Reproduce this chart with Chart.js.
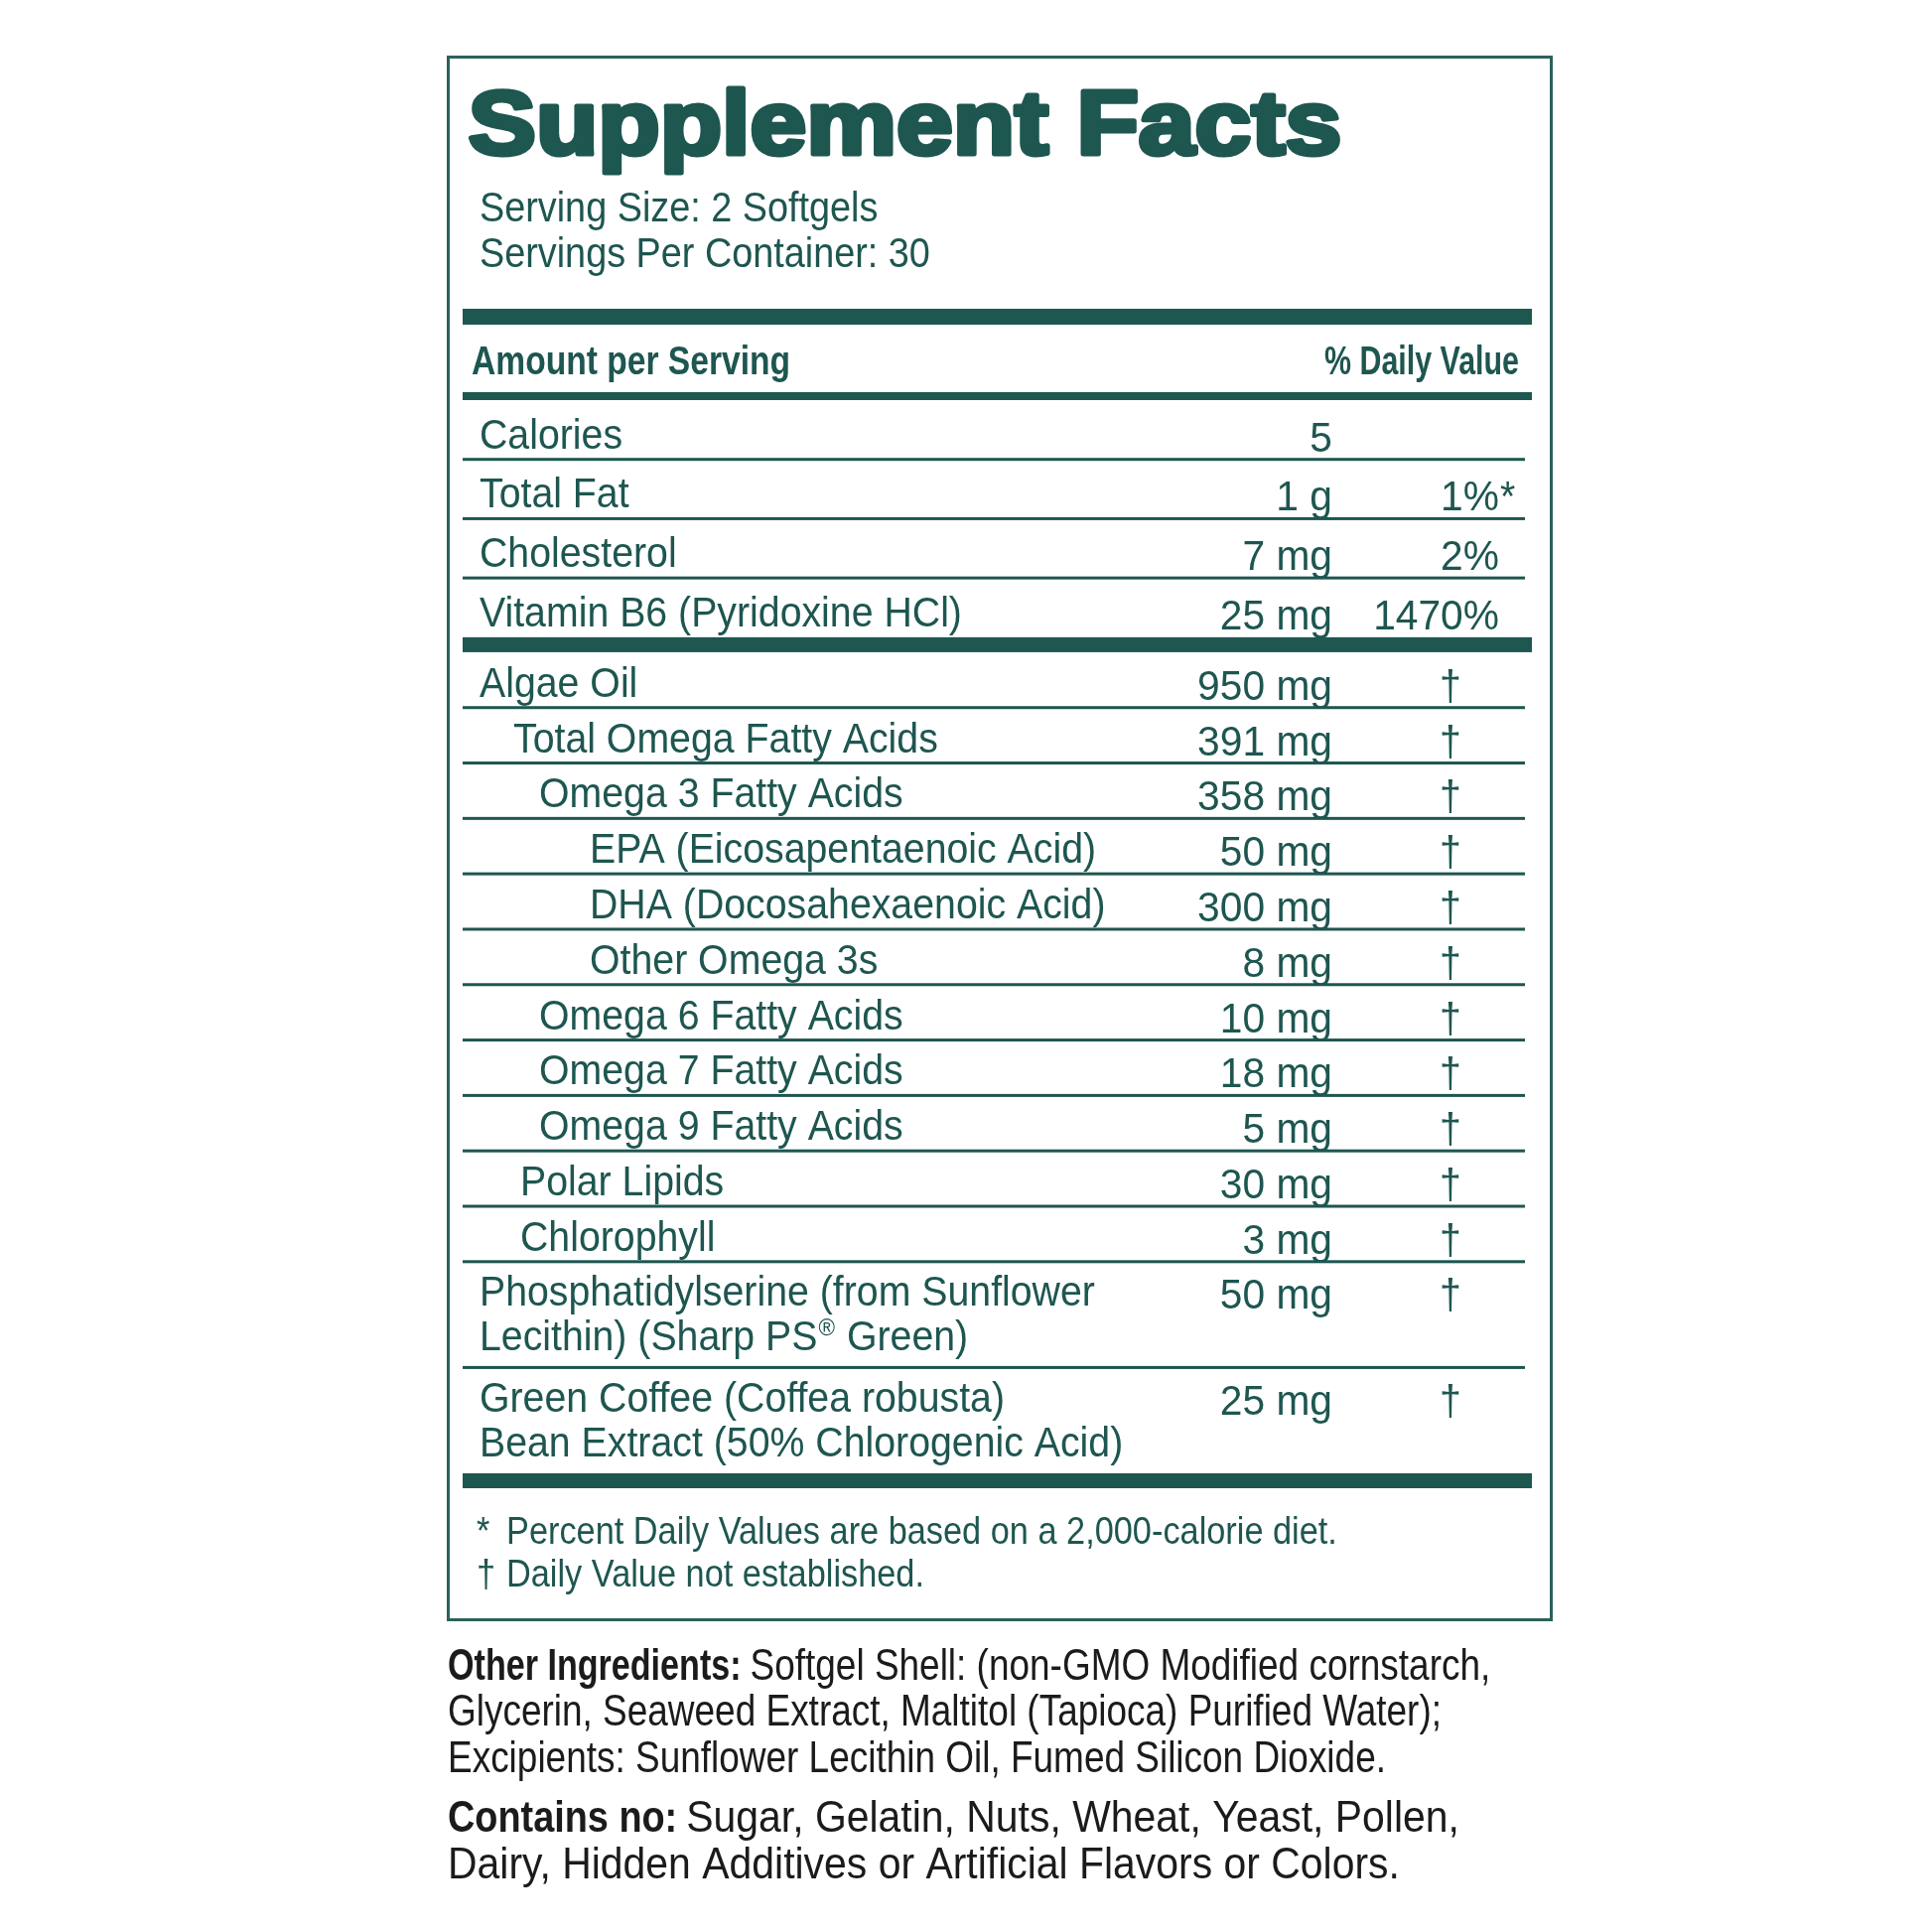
<!DOCTYPE html>
<html><head><meta charset="utf-8">
<style>html,body{margin:0;padding:0;background:#fff}canvas{display:block}</style>
<script src="https://cdn.jsdelivr.net/npm/chart.js@4.4.1/dist/chart.umd.min.js"></script>
</head><body>
<canvas id="c" width="1946" height="1946"></canvas>
<script>
// ---------- DATA ----------
const titleText = "Supplement Facts";
const servingLines = ["Serving Size: 2 Softgels", "Servings Per Container: 30"];
const headerLeft = "Amount per Serving";
const headerRight = "% Daily Value";

const rowLabels = [
  "Calories",
  "Total Fat",
  "Cholesterol",
  "Vitamin B6 (Pyridoxine HCl)",
  "Algae Oil",
  "Total Omega Fatty Acids",
  "Omega 3 Fatty Acids",
  "EPA (Eicosapentaenoic Acid)",
  "DHA (Docosahexaenoic Acid)",
  "Other Omega 3s",
  "Omega 6 Fatty Acids",
  "Omega 7 Fatty Acids",
  "Omega 9 Fatty Acids",
  "Polar Lipids",
  "Chlorophyll",
  ["Phosphatidylserine (from Sunflower", "Lecithin) (Sharp PS\u00AE Green)"],
  ["Green Coffee (Coffea robusta)", "Bean Extract (50% Chlorogenic Acid)"]
];
const amountValues = [5, 1, 7, 25, 950, 391, 358, 50, 300, 8, 10, 18, 5, 30, 3, 50, 25];
const amountUnits  = ["", "g", "mg", "mg", "mg", "mg", "mg", "mg", "mg", "mg", "mg", "mg", "mg", "mg", "mg", "mg", "mg"];
const dailyValues  = ["", "1%*", "2%", "1470%", "\u2020", "\u2020", "\u2020", "\u2020", "\u2020", "\u2020", "\u2020", "\u2020", "\u2020", "\u2020", "\u2020", "\u2020", "\u2020"];
const indentLevels = [0, 0, 0, 0, 0, 1, 3, 4, 4, 4, 3, 3, 3, 2, 2, 0, 0];
const rowSections  = [0, 0, 0, 0, 1, 1, 1, 1, 1, 1, 1, 1, 1, 1, 1, 1, 1];

const footnotes = [
  ["*", "Percent Daily Values are based on a 2,000-calorie diet."],
  ["\u2020", "Daily Value not established."]
];
const otherIngredientsHead = "Other Ingredients:";
const otherIngredientsLines = [
  "Softgel Shell: (non-GMO Modified cornstarch,",
  "Glycerin, Seaweed Extract, Maltitol (Tapioca) Purified Water);",
  "Excipients: Sunflower Lecithin Oil, Fumed Silicon Dioxide."
];
const containsHead = "Contains no:";
const containsLines = [
  "Sugar, Gelatin, Nuts, Wheat, Yeast, Pollen,",
  "Dairy, Hidden Additives or Artificial Flavors or Colors."
];

// ---------- STYLE ----------
const TEAL = "#1e5650";
const BORDER = "#2a625b";
const INK = "#1b1b1b";
const FONT = '"Liberation Sans", Arial, sans-serif';
const SX = 0.935, SXB = 0.84, SXN = 0.97;
const INDENT = [0, 34, 41, 60, 111];
const SECTION_GAP = 0.27;

// row units along the y scale
const rowStart = [], rowEnd = [];
let acc = 0;
rowLabels.forEach((lab, i) => {
  if (i > 0 && rowSections[i] !== rowSections[i - 1]) acc += SECTION_GAP;
  const lines = Array.isArray(lab) ? lab.length : 1;
  const u = rowSections[i] === 0 ? 1.07 : (lines === 2 ? 1.91 : 1);
  rowStart.push(acc); acc += u; rowEnd.push(acc);
});
const totalUnits = acc;

function txt(ctx, s, x, y, size, o = {}) {
  ctx.save();
  ctx.font = (o.bold ? 'bold ' : '') + size + 'px ' + FONT;
  ctx.fillStyle = o.color || TEAL;
  ctx.textBaseline = 'alphabetic';
  ctx.textAlign = o.align || 'left';
  const sx = o.sx || SX;
  ctx.translate(x, y);
  ctx.scale(sx, 1);
  ctx.fillText(s, 0, 0);
  const w = ctx.measureText(s).width * sx;
  ctx.restore();
  return w;
}

function labelLine(ctx, s, x, y) {
  if (s.includes("\u00AE")) {
    const parts = s.split("\u00AE");
    let w = txt(ctx, parts[0], x, y, 42);
    w += txt(ctx, "\u00AE", x + w + 1, y - 15, 24) + 2;
    txt(ctx, parts[1], x + w, y, 42);
  } else {
    txt(ctx, s, x, y, 42);
  }
}

const labelPlugin = {
  id: 'label',
  beforeDraw(chart) {
    const ctx = chart.ctx;
    ctx.save(); ctx.fillStyle = '#fff'; ctx.fillRect(0, 0, chart.width, chart.height); ctx.restore();
  },
  afterDraw(chart) {
    const ctx = chart.ctx;
    const ys = chart.scales.y;
    const L = chart.chartArea.left, RT = chart.chartArea.right, R = RT - 7;

    // outer border
    ctx.save();
    ctx.strokeStyle = BORDER; ctx.lineWidth = 3;
    ctx.strokeRect(451.5, 57.5, 1111, 1574);
    ctx.restore();

    // title
    ctx.save();
    ctx.font = 'bold 91px ' + FONT;
    const TLW = 5;
    const tw = ctx.measureText(titleText).width + TLW;
    const tsx = 885 / tw;
    ctx.translate(469 + TLW / 2 * tsx, 155);
    ctx.scale(tsx, 1);
    ctx.fillStyle = TEAL; ctx.strokeStyle = TEAL;
    ctx.lineWidth = TLW; ctx.lineJoin = 'round';
    ctx.strokeText(titleText, 0, 0);
    ctx.fillText(titleText, 0, 0);
    ctx.restore();

    // serving info
    txt(ctx, servingLines[0], 483, 223, 42, { sx: 0.90 });
    txt(ctx, servingLines[1], 483, 269, 42, { sx: 0.90 });

    ctx.fillStyle = TEAL;
    ctx.fillRect(L, 311, RT - L, 16);
    txt(ctx, headerLeft, 475, 377, 40, { bold: true, sx: SXB });
    txt(ctx, headerRight, 1530, 377, 40, { bold: true, sx: 0.76, align: 'right' });
    ctx.fillStyle = TEAL;
    ctx.fillRect(L, 395, RT - L, 8);

    // rows
    rowLabels.forEach((lab, i) => {
      const top = ys.getPixelForValue(rowStart[i]);
      const bot = ys.getPixelForValue(rowEnd[i]);
      const lines = Array.isArray(lab) ? lab : [lab];
      const x = 483 + INDENT[indentLevels[i]];
      const b0 = lines.length === 1 ? bot - 11 : top + 44.5;
      lines.forEach((ln, k) => labelLine(ctx, ln, x, b0 + k * 45));
      const amt = amountValues[i] + (amountUnits[i] ? ' ' + amountUnits[i] : '');
      txt(ctx, amt, 1342, b0 + 3, 42, { align: 'right', sx: SXN });
      const dv = dailyValues[i];
      if (dv === "\u2020") {
        txt(ctx, dv, 1461, b0 + 3, 42, { align: 'center' });
      } else if (dv) {
        const star = dv.endsWith('*');
        const core = star ? dv.slice(0, -1) : dv;
        txt(ctx, core, 1510, b0 + 3, 42, { align: 'right', sx: SXN });
        if (star) txt(ctx, '*', 1511, b0 + 3, 42);
      }
      ctx.fillStyle = TEAL;
      const next = i + 1;
      if (next < rowLabels.length && rowSections[next] === rowSections[i]) {
        ctx.fillRect(L, bot - 1.5, R - L, 3);
      } else if (next < rowLabels.length) {
        const nTop = ys.getPixelForValue(rowStart[next]);
        ctx.fillRect(L, bot, RT - L, nTop - bot);
      } else {
        ctx.fillRect(L, bot, RT - L, 15);
      }
    });

    // footnotes
    txt(ctx, footnotes[0][0], 480, 1555, 39, { sx: 0.88 });
    txt(ctx, footnotes[0][1], 510, 1555, 39, { sx: 0.88 });
    txt(ctx, footnotes[1][0], 480, 1598, 39, { sx: 0.88 });
    txt(ctx, footnotes[1][1], 510, 1598, 39, { sx: 0.88 });

    // other ingredients
    const SXI = 0.84, SXIB = 0.775;
    let w = txt(ctx, otherIngredientsHead, 451, 1692, 44, { bold: true, sx: SXIB, color: INK });
    txt(ctx, otherIngredientsLines[0], 451 + w + 9, 1692, 44, { color: INK, sx: SXI });
    txt(ctx, otherIngredientsLines[1], 451, 1738, 44, { color: INK, sx: SXI });
    txt(ctx, otherIngredientsLines[2], 451, 1785, 44, { color: INK, sx: SXI });
    const SXC = 0.93, SXCB = 0.86;
    w = txt(ctx, containsHead, 451, 1845, 44, { bold: true, sx: SXCB, color: INK });
    txt(ctx, containsLines[0], 451 + w + 9, 1845, 44, { color: INK, sx: SXC });
    txt(ctx, containsLines[1], 451, 1892, 44, { color: INK, sx: SXC });
  }
};

new Chart(document.getElementById('c'), {
  type: 'scatter',
  data: { datasets: [{ data: [] }] },
  options: {
    responsive: false,
    devicePixelRatio: 1,
    animation: false,
    events: [],
    layout: { padding: { top: 403, bottom: 1946 - 1484, left: 466, right: 1946 - 1543 } },
    plugins: { legend: { display: false }, tooltip: { enabled: false } },
    scales: {
      x: { display: false, min: 0, max: 1 },
      y: { display: false, min: 0, max: totalUnits, reverse: true }
    }
  },
  plugins: [labelPlugin]
});
</script>
</body></html>
